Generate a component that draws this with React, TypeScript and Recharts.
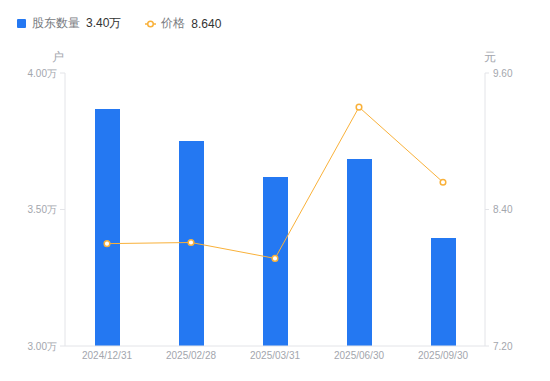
import React from 'react';
import { ComposedChart, Bar, Line, XAxis, YAxis } from 'recharts';

const dates = ['2024/12/31', '2025/02/28', '2025/03/31', '2025/06/30', '2025/09/30'];
const holders = [38680, 37510, 36190, 36850, 33960];
const prices = [8.1, 8.11, 7.97, 9.3, 8.64];
const leftTicks = [30000, 35000, 40000];
const rightTicks = [7.2, 8.4, 9.6];

const data = dates.map((date, i) => ({ date, holders: holders[i], price: prices[i] }));

const BLUE = '#2478f2';
const ORANGE = '#f9b13a';
const GREY = '#a3a6ad';
const AXIS = '#e3e4e8';
const font = '"Liberation Sans", Arial, sans-serif';

const fmtWan = (v: number) => `${(v / 10000).toFixed(2)}万`;

export default function App() {
  return (
    <div style={{ position: 'absolute', left: 0, top: 0, width: 550, height: 381, fontFamily: font, background: '#fff' }}>
      <div style={{ position: 'absolute', left: 17, top: 15, display: 'flex', alignItems: 'center', fontSize: 12, whiteSpace: 'nowrap' }}>
        <span style={{ width: 9, height: 9, background: BLUE, borderRadius: 1, display: 'inline-block', marginRight: 6 }} />
        <span style={{ color: '#777a80', marginRight: 6 }}>股东数量</span>
        <span style={{ color: '#333' }}>3.40万</span>
        <svg width={11} height={10} style={{ marginLeft: 24, marginRight: 5 }}>
          <line x1={0} y1={5} x2={11} y2={5} stroke={ORANGE} strokeWidth={1.5} />
          <circle cx={5.5} cy={5} r={2.8} fill="#fff" stroke={ORANGE} strokeWidth={1.5} />
        </svg>
        <span style={{ color: '#777a80', marginRight: 6 }}>价格</span>
        <span style={{ color: '#333' }}>8.640</span>
      </div>
      <div style={{ position: 'absolute', left: 52, top: 49, fontSize: 12, color: GREY }}>户</div>
      <div style={{ position: 'absolute', left: 484, top: 49, fontSize: 12, color: GREY }}>元</div>
      <ComposedChart width={550} height={381} data={data} margin={{ top: 73, right: 5, bottom: 5, left: 5 }}>
        <XAxis
          dataKey="date"
          height={30}
          tickSize={0}
          tickMargin={6}
          tick={{ fontSize: 10, fill: GREY, fontFamily: font }}
          axisLine={{ stroke: AXIS }}
        />
        <YAxis
          yAxisId="left"
          width={60}
          domain={[30000, 40000]}
          ticks={leftTicks}
          tickFormatter={fmtWan}
          tickSize={5}
          tickMargin={3}
          tick={{ fontSize: 10, fill: GREY, fontFamily: font }}
          tickLine={{ stroke: AXIS }}
          axisLine={{ stroke: AXIS }}
        />
        <YAxis
          yAxisId="right"
          orientation="right"
          width={60}
          domain={[7.2, 9.6]}
          ticks={rightTicks}
          tickFormatter={(v: number) => v.toFixed(2)}
          tickSize={4}
          tickMargin={4}
          tick={{ fontSize: 10, fill: GREY, fontFamily: font }}
          tickLine={{ stroke: AXIS }}
          axisLine={{ stroke: AXIS }}
        />
        <Bar yAxisId="left" dataKey="holders" fill={BLUE} barSize={25} isAnimationActive={false} />
        <Line
          yAxisId="right"
          dataKey="price"
          stroke={ORANGE}
          strokeWidth={1}
          dot={{ r: 2.8, fill: '#fff', stroke: ORANGE, strokeWidth: 1.5 }}
          activeDot={false}
          isAnimationActive={false}
        />
      </ComposedChart>
    </div>
  );
}
